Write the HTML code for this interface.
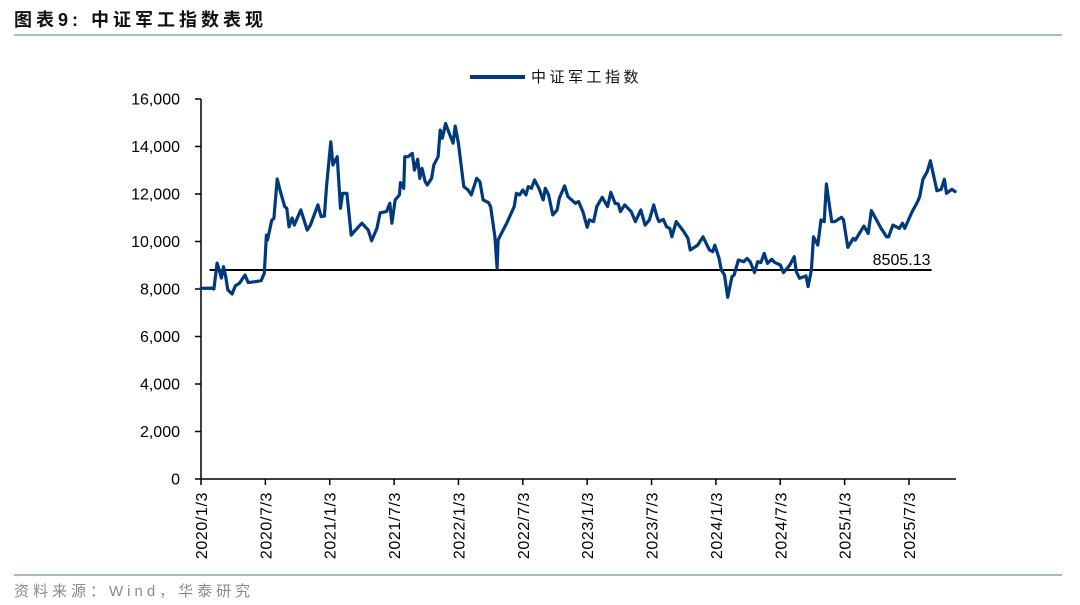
<!DOCTYPE html>
<html><head><meta charset="utf-8">
<style>
html,body{margin:0;padding:0;background:#fff;}
body{width:1080px;height:605px;overflow:hidden;position:relative;font-family:"Liberation Sans","Noto Sans CJK SC",sans-serif;}
</style></head>
<body>
<svg id="chart" width="1080" height="605" viewBox="0 0 1080 605" xmlns="http://www.w3.org/2000/svg" style="position:absolute;left:0;top:0">
  <text x="14" y="26" font-size="18" font-weight="bold" fill="#111" font-family="'Liberation Sans','Noto Sans CJK SC',sans-serif" letter-spacing="4">图表9:  中证军工指数表现</text>
  <rect x="14" y="34" width="1048" height="2" fill="#a5b9d3"/>
  <rect x="14" y="574" width="1048" height="2" fill="#a5b9d3"/>
  <text x="14" y="596" font-size="15" fill="#8a8a8a" letter-spacing="4" font-family="'Liberation Sans','Noto Sans CJK SC',sans-serif">资料来源：Wind，华泰研究</text>
  <g>
    <line x1="470" y1="77" x2="525" y2="77" stroke="#003a7d" stroke-width="4"/>
    <text x="531" y="82" font-size="15" fill="#111" letter-spacing="3.5" font-family="'Liberation Sans','Noto Sans CJK SC',sans-serif">中证军工指数</text>
  </g>
  <g id="axes"></g>
  <g id="marks"></g>
</svg>
<script>
// months since 2020/1/3
const months = [0,1.0,1.2,1.5,1.7,1.9,2.1,2.3,2.5,2.9,3.2,3.6,4.1,4.4,5.1,5.6,5.9,6.1,6.2,6.6,6.8,7.1,7.4,7.8,8.0,8.2,8.5,8.7,9.3,9.9,10.2,10.9,11.2,11.5,11.7,12.1,12.3,12.7,13.0,13.2,13.6,14.0,14.4,15.0,15.6,15.9,16.4,16.7,17.3,17.6,17.8,18.1,18.5,18.6,18.9,19.0,19.3,19.7,19.9,20.2,20.4,20.6,20.9,21.1,21.5,21.7,22.1,22.3,22.5,22.8,23.2,23.5,23.7,24.0,24.5,24.9,25.2,25.7,26.0,26.3,26.8,27.0,27.4,27.6,27.7,28.0,28.5,29.2,29.4,29.7,30.0,30.3,30.5,30.8,31.1,31.5,31.9,32.1,32.4,32.8,33.2,33.4,33.9,34.2,34.9,35.2,35.6,36.0,36.2,36.6,36.9,37.4,37.9,38.2,38.6,38.9,39.1,39.5,40.1,40.5,41.0,41.4,41.8,42.2,42.5,42.7,43.1,43.4,43.7,43.9,44.3,45.0,45.4,45.6,46.3,46.8,47.4,47.7,47.9,48.3,48.5,48.8,49.1,49.5,49.7,50.1,50.6,50.9,51.2,51.6,51.9,52.2,52.5,52.8,53.2,53.5,54.0,54.3,54.9,55.3,55.5,55.8,56.4,56.6,56.9,57.1,57.5,57.8,58.1,58.3,58.8,59.1,59.7,59.9,60.3,60.8,61.0,61.6,61.8,62.2,62.5,62.9,63.4,63.9,64.1,64.5,65.1,65.4,65.6,66.3,66.8,67.0,67.3,67.7,68.0,68.6,69.0,69.3,69.5,70.0,70.3];
const indexValues = [8030,8040,8000,9090,8800,8460,8940,8520,7960,7790,8130,8250,8590,8270,8310,8350,8660,10270,10060,10900,10970,12630,12100,11470,11400,10620,10990,10690,11330,10480,10690,11540,11050,11070,12310,14200,13220,13570,11400,12030,12030,10270,10480,10770,10480,10030,10550,11210,11260,11610,10770,11750,11960,12480,12240,13570,13570,13710,13010,13460,12660,13080,12520,12380,12660,13220,13570,14690,14350,14970,14480,14140,14860,14140,12310,12170,11960,12660,12520,11750,11640,11470,10200,8870,10060,10340,10770,11470,12030,11960,12170,11960,12310,12240,12590,12240,11750,12240,11960,11120,11330,11820,12340,11890,11610,11680,11260,10600,10910,10840,11470,11860,11470,12070,11610,11580,11260,11540,11260,10840,11330,10690,10910,11540,11050,10840,10930,10620,10550,10200,10840,10420,10130,9640,9850,10200,9640,9570,9850,9290,8800,8590,7650,8520,8590,9220,9150,9290,9150,8690,9150,9110,9500,9080,9250,9110,9010,8690,9010,9360,8730,8450,8550,8100,8800,10200,9850,10910,10840,12420,10840,10840,11020,10910,9750,10130,10060,10510,10650,10340,11300,10970,10550,10200,10200,10690,10550,10770,10550,11260,11680,11890,12620,12940,13400,12140,12200,12620,12030,12200,12100,11750];
const yTicks = [0,2000,4000,6000,8000,10000,12000,14000,16000];
const yTickLabels = ["0","2,000","4,000","6,000","8,000","10,000","12,000","14,000","16,000"];
const xTickMonths = [0,6,12,18,24,30,36,42,48,54,60,66];
const xTickLabels = ["2020/1/3","2020/7/3","2021/1/3","2021/7/3","2022/1/3","2022/7/3","2023/1/3","2023/7/3","2024/1/3","2024/7/3","2025/1/3","2025/7/3"];
const refValue = 8800;
const refLabel = "8505.13";
const refStart = 0.8, refEnd = 68.1;

const NS = "http://www.w3.org/2000/svg";
const X0 = 201, PXM = 10.727, Y0 = 479, YTOP = 99, YMAX = 16000;
const xs = m => X0 + m * PXM;
const ys = v => Y0 - v / YMAX * (Y0 - YTOP);
function mk(tag, attrs, parent){const e=document.createElementNS(NS,tag);for(const k in attrs)e.setAttribute(k,attrs[k]);parent.appendChild(e);return e;}
const axes = document.getElementById('axes'), marks = document.getElementById('marks');
const FONT = "'Liberation Sans',sans-serif";

let yax = mk('line',{x1:X0,y1:YTOP,x2:X0,y2:Y0,stroke:'#000','stroke-width':1.5},axes);


yTicks.forEach((v,i)=>{
  const t = mk('line',{x1:X0-6,y1:ys(v),x2:X0,y2:ys(v),stroke:'#000','stroke-width':1.5},axes);
  
  
  const l = mk('text',{x:X0-21,y:ys(v)+5.5,'text-anchor':'end','font-size':16,fill:'#000','font-family':FONT},axes);
  l.textContent = yTickLabels[i];
  
  
});
let xax = mk('line',{x1:X0,y1:Y0,x2:956,y2:Y0,stroke:'#000','stroke-width':1.5},axes);


xTickMonths.forEach((m,i)=>{
  const x = xs(m);
  const t = mk('line',{x1:x,y1:Y0,x2:x,y2:Y0+6,stroke:'#000','stroke-width':1.5},axes);
  
  
  const l = mk('text',{x:0,y:0,'text-anchor':'end','font-size':16,'letter-spacing':0.6,fill:'#000','font-family':FONT,transform:`translate(${x+6},${Y0+13}) rotate(-90)`},axes);
  l.textContent = xTickLabels[i];
  
  
});

const ref = mk('line',{x1:xs(refStart),y1:ys(refValue),x2:xs(refEnd),y2:ys(refValue),stroke:'#000','stroke-width':2},marks);


const rl = mk('text',{x:xs(refEnd)-1,y:ys(refValue)-5,'text-anchor':'end','font-size':16,fill:'#000','font-family':FONT},marks);
rl.textContent = refLabel;



const d = months.map((m,i)=>(i?'L':'M')+xs(m).toFixed(1)+' '+ys(indexValues[i]).toFixed(1)).join(' ');
const line = mk('path',{d:d,fill:'none',stroke:'#003a7d','stroke-width':3.2,'stroke-linejoin':'round','stroke-linecap':'round'},marks);


</script>
</body></html>
